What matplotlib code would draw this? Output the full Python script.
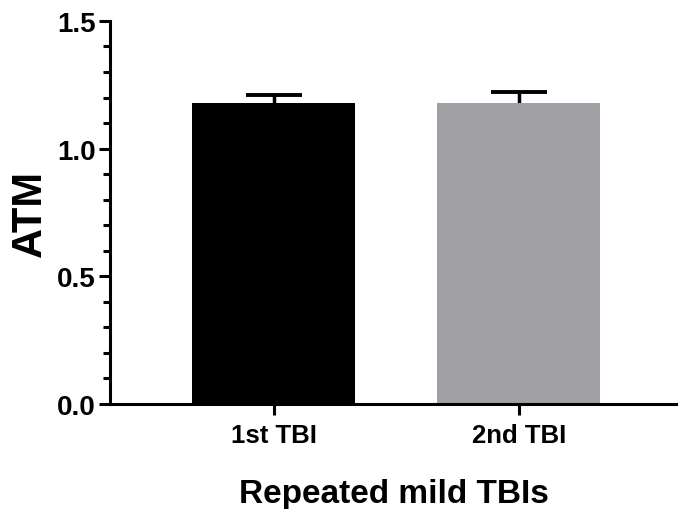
import matplotlib.pyplot as plt
from matplotlib.ticker import MultipleLocator

plt.rcParams['font.family'] = ['Liberation Sans', 'DejaVu Sans']
plt.rcParams['font.weight'] = 'bold'

groups = ['1st TBI', '2nd TBI']
means = [1.18, 1.18]
sem_up = [0.03, 0.04]
colors = ['#000000', '#A0A0A4']

fig = plt.figure(figsize=(6.78, 5.1), dpi=100)
ax = fig.add_axes([0.162, 0.206, 0.838, 0.751])

x = range(len(groups))
eb = ax.errorbar(x, means, yerr=[[0, 0], sem_up], fmt='none', ecolor='black',
                 elinewidth=2.5, capsize=20, capthick=2.8, zorder=1)
# hide the lower cap (only upward error shown)
eb[1][0].set_visible(False)
ax.bar(x, means, width=0.665, color=colors, zorder=2)

ax.set_xlim(-0.67, 1.65)
ax.set_ylim(0, 1.5)
ax.yaxis.set_major_locator(MultipleLocator(0.5))
ax.yaxis.set_minor_locator(MultipleLocator(0.1))
ax.yaxis.set_major_formatter(plt.FormatStrFormatter('%.1f'))
ax.set_xticks(list(x))
ax.set_xticklabels(groups)

for s in ['top', 'right']:
    ax.spines[s].set_visible(False)
for s in ['left', 'bottom']:
    ax.spines[s].set_linewidth(2.2)

ax.tick_params(axis='y', which='major', length=8, width=2.2, labelsize=20, pad=2)
ax.tick_params(axis='y', which='minor', length=5, width=2.2)
ax.tick_params(axis='x', which='major', length=8, width=2.2, labelsize=18.5, pad=6)

ax.set_ylabel('ATM', fontsize=30, fontweight='bold', labelpad=5)
ax.set_xlabel('Repeated mild TBIs', fontsize=24, fontweight='bold', labelpad=22)

fig.savefig('out.png', dpi=100)
